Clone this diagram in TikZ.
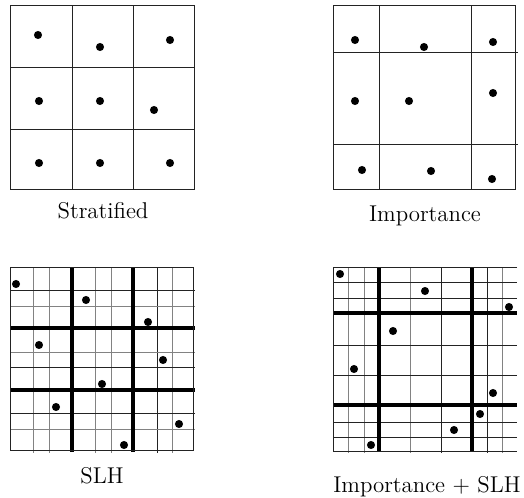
\documentclass[tikz,border=0pt]{standalone}
\usepackage{tikz}
\usetikzlibrary{positioning}
\definecolor{gridgray}{RGB}{130,130,130}
\definecolor{linedark}{RGB}{35,35,35}
\tikzset{
  box/.style={line width=0.5pt, linedark},
  fine/.style={line width=0.5pt, linedark},
  faint/.style={line width=0.5pt, gridgray},
  heavy/.style={line width=1.9pt},
  caption/.style={font=\fontsize{13}{15}\selectfont, inner sep=0pt, anchor=base}
}

\begin{document}
\begin{tikzpicture}[x=0.02cm, y=-0.02cm]
    \useasboundingbox (0,0) rectangle (524,497);
    % stratified
    \draw[box] (10,5) rectangle (194,189);
    \foreach \v in {72,133} \draw[fine] (\v,5) -- (\v,190);
    \foreach \h in {67,129} \draw[fine] (10,\h) -- (195,\h);
    \foreach \x/\y in {38/35, 100/47, 170/40, 39/101, 100/101, 154/110, 39/163, 100/163, 170/163}
        \fill (\x,\y) circle (2.3pt);
    \node[caption] (strat) at (103,218) {Stratified};
    % importance
    \draw[box] (333,5) rectangle (515,189);
    \foreach \v in {379,471} \draw[fine] (\v,5) -- (\v,190);
    \foreach \h in {52,144} \draw[fine] (333,\h) -- (518,\h);
    \foreach \x/\y in {355/40, 424/47, 493/42, 355/101, 409/101, 493/93, 362/170, 431/171, 492/179}
        \fill (\x,\y) circle (2.3pt);
    \node[caption] (imp) at (425,221) {Importance};
    % SLH
    \foreach \v in {33,49,95,111,172} \draw[faint] (\v,267) -- (\v,453);
    \draw[fine] (157,267) -- (157,453);
    \foreach \h in {306,352,429} \draw[faint] (10,\h) -- (195,\h);
    \foreach \h in {290,367,413} \draw[fine] (10,\h) -- (195,\h);
    \foreach \v in {72,133} \draw[heavy] (\v,267) -- (\v,452);
    \foreach \h in {328,390} \draw[heavy] (10,\h) -- (195,\h);
    \draw[box] (10,267) rectangle (193,450);
    \foreach \x/\y in {16/284, 86/300, 148/322, 39/345, 163/360, 102/384, 56/407, 179/424, 124/445}
        \fill (\x,\y) circle (2.3pt);
    \node[caption] (slh) at (102,483) {SLH};
    % importance + SLH
    \foreach \v in {348,364,410,502} \draw[faint] (\v,267) -- (\v,453);
    \foreach \v in {441,487} \draw[fine] (\v,267) -- (\v,453);
    \foreach \h in {282,298,345,375,422,437} \draw[fine] (333,\h) -- (517,\h);
    \foreach \v in {379,472} \draw[heavy] (\v,267) -- (\v,452);
    \foreach \h in {313,405} \draw[heavy] (333,\h) -- (517,\h);
    \draw[box] (517,267) -- (333,267) -- (333,451) -- (517,451);
    \foreach \x/\y in {340/274, 425/291, 509/307, 393/331, 354/369, 493/393, 480/414, 454/430, 371/445}
        \fill (\x,\y) circle (2.3pt);
    \node[caption] (impslh) at (427,492) {Importance + SLH};
\end{tikzpicture}
\end{document}
